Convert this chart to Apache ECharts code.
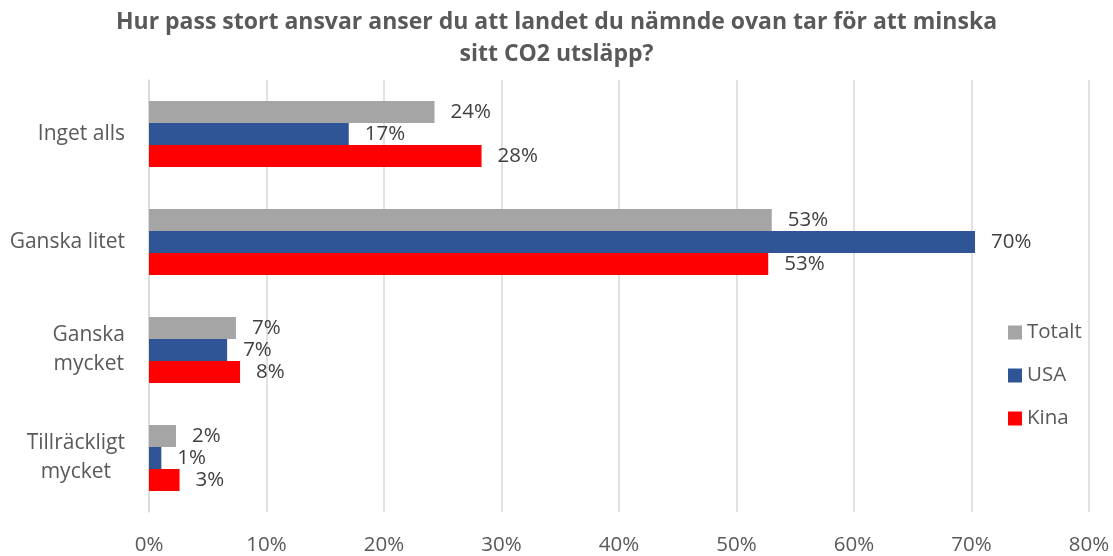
<!DOCTYPE html>
<html>
<head>
<meta charset="utf-8">
<script src="https://cdn.jsdelivr.net/npm/echarts@6/dist/echarts.min.js"></script>
<style>
  html, body { margin: 0; padding: 0; background: #fff; }
  #chart { width: 1113px; height: 556px; }
</style>
</head>
<body>
<div id="chart"></div>
<script>
// answer categories, top to bottom
const categories = ["Inget alls", "Ganska litet", "Ganska\nmycket", "Tillräckligt\nmycket"]

// values in percent
const totalt = [24.3, 53.0, 7.4, 2.3]
const usa = [17.0, 70.3, 6.65, 1.05]
const kina = [28.3, 52.7, 7.75, 2.6]

const seriesNames = ["Totalt", "USA", "Kina"]
const colors = ["#A5A5A5", "#2F5597", "#FF0000"]

const font = "'Open Sans', sans-serif"

var chart = echarts.init(document.getElementById('chart'), null, {renderer: 'canvas'})

function barSeries(name, data, color) {
    return {
        name: name,
        type: 'bar',
        data: data,
        barWidth: 22,
        barGap: '0%',
        itemStyle: {color: color},
        label: {
            show: true,
            position: 'right',
            distance: 16,
            color: '#404040',
            fontFamily: font,
            fontSize: 20.5,
            formatter: p => Math.round(p.value) + '%'
        }
    }
}

var option = {
    title: {
        text: "Hur pass stort ansvar anser du att landet du nämnde ovan tar för att minska\nsitt CO2 utsläpp?",
        left: 'center',
        top: 1,
        padding: [5, 0, 5, 14],
        textStyle: {
            color: '#595959',
            fontFamily: font,
            fontWeight: 'bold',
            fontSize: 23,
            lineHeight: 32
        }
    },
    legend: {
        orient: 'vertical',
        left: 1003,
        top: 317,
        itemWidth: 14,
        itemHeight: 14,
        itemGap: 22,
        icon: 'rect',
        textStyle: {color: '#595959', fontFamily: font, fontSize: 20.5},
        data: seriesNames
    },
    grid: {
        left: 149,
        right: 24,
        top: 80,
        bottom: 43,
        containLabel: false
    },
    xAxis: {
        type: 'value',
        min: 0,
        max: 80,
        interval: 10,
        axisLine: {show: false},
        axisTick: {show: false},
        splitLine: {lineStyle: {color: '#D9D9D9', width: 1.5}},
        axisLabel: {
            margin: 23,
            color: '#595959',
            fontFamily: font,
            fontSize: 20.5,
            formatter: '{value}%'
        }
    },
    yAxis: {
        type: 'category',
        inverse: true,
        data: categories,
        axisLine: {lineStyle: {color: '#D9D9D9', width: 1.5}},
        axisTick: {show: false},
        axisLabel: {
            margin: 24,
            color: '#595959',
            fontFamily: font,
            fontSize: 21,
            lineHeight: 29,
            formatter: v => v.split('\n').map(s => '{c|' + s + '}').join('\n'),
            rich: {
                c: {align: 'center', color: '#595959', fontFamily: font, fontSize: 21, lineHeight: 29}
            }
        }
    },
    series: [
        barSeries(seriesNames[0], totalt, colors[0]),
        barSeries(seriesNames[1], usa, colors[1]),
        barSeries(seriesNames[2], kina, colors[2])
    ]
}

chart.setOption(option)
</script>
</body>
</html>
